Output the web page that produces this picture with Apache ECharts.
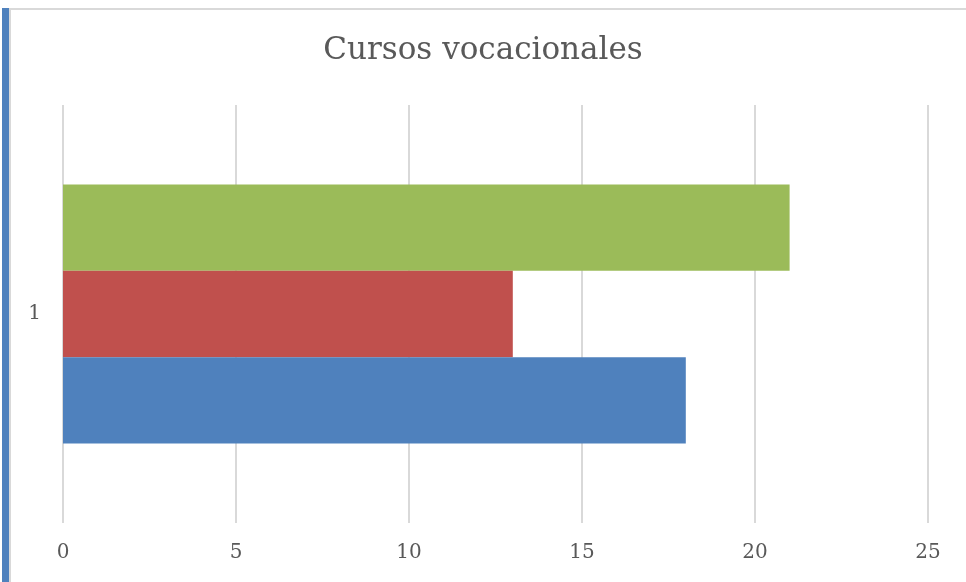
<!DOCTYPE html>
<html>
<head>
<meta charset="utf-8">
<script src="https://cdn.jsdelivr.net/npm/echarts@6/dist/echarts.min.js"></script>
<style>
  html, body { margin: 0; padding: 0; background: #fff; }
  #chart { width: 966px; height: 582px; }
</style>
</head>
<body>
<div id="chart"></div>
<script>
const categories = ['1']
const seriesNames = ['Serie 1', 'Serie 2', 'Serie 3']
const seriesValues = [[18], [13], [21]]
const colorList = ['#4f81bd', '#c0504d', '#9bbb59']
const xTicks = { min: 0, max: 25, interval: 5 }

const fontFamily = '"DejaVu Serif", "Liberation Serif", serif'
const chart = echarts.init(document.getElementById('chart'))

// echarts stacks the first series on top for horizontal bars, excel puts it at the bottom
const order = [2, 1, 0]

const option = {
  animation: false,
  backgroundColor: '#fff',
  title: {
    text: 'Cursos vocacionales',
    left: 'center',
    top: 30,
    textStyle: { fontFamily, fontWeight: 'normal', fontSize: 31, color: '#595959' }
  },
  grid: { left: 63, right: 38, top: 105, bottom: 59, containLabel: false },
  xAxis: {
    type: 'value',
    min: xTicks.min,
    max: xTicks.max,
    interval: xTicks.interval,
    axisLine: { show: false },
    axisTick: { show: false },
    axisLabel: { fontFamily, fontSize: 20, color: '#595959', margin: 20 },
    splitLine: { show: true, lineStyle: { color: '#d9d9d9', width: 2 } }
  },
  yAxis: {
    type: 'category',
    data: categories,
    axisLine: { show: false },
    axisTick: { show: false },
    axisLabel: { fontFamily, fontSize: 20, color: '#595959', margin: 22 }
  },
  graphic: [
    { type: 'rect', shape: { x: 9, y: 8, width: 957, height: 2 }, style: { fill: '#d9d9d9' } },
    { type: 'rect', shape: { x: 9, y: 8, width: 2, height: 574 }, style: { fill: '#d9d9d9' } },
    { type: 'rect', shape: { x: 2, y: 8, width: 7, height: 574 }, style: { fill: '#4f81bd' } }
  ],
  series: order.map(i => ({
    name: seriesNames[i],
    type: 'bar',
    data: seriesValues[i],
    barGap: '0%',
    barCategoryGap: '38%',
    itemStyle: { color: colorList[i] }
  }))
}

chart.setOption(option)
</script>
</body>
</html>
